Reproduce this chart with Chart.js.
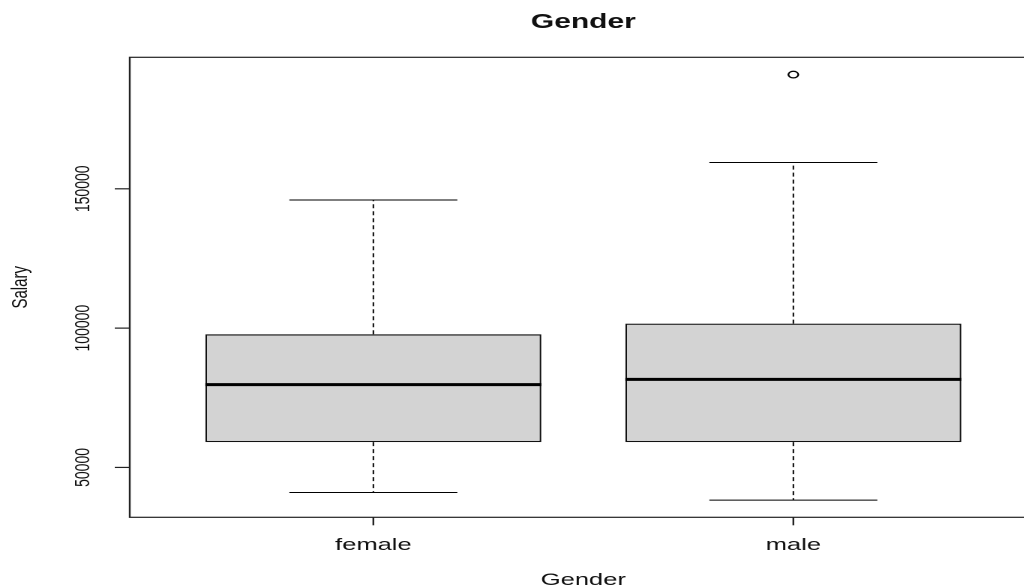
<!DOCTYPE html>
<html>
<head>
<meta charset="utf-8">
<script src="https://cdn.jsdelivr.net/npm/chart.js@4.4.1/dist/chart.umd.min.js"></script>
<style>
  html, body { margin: 0; padding: 0; background: #fff; overflow: hidden; }
  #wrap { width: 1024px; height: 588px; overflow: hidden; position: relative; }
  /* the reference is stretched sideways, so draw narrow and stretch */
  #chart { position: absolute; left: 0; top: 0; transform: scaleX(1.5); transform-origin: 0 0; }
</style>
</head>
<body>
<div id="wrap"><canvas id="chart" width="700" height="588"></canvas></div>
<script>
const categories = ['female', 'male'];
const lowerWhisker = [41000, 38250];
const q1 = [59100, 59100];
const median = [79700, 81600];
const q3 = [97800, 101600];
const upperWhisker = [146000, 159450];
const outliers = [[], [191000]];
const yTicks = [50000, 100000, 150000];

const FONT = 'Liberation Sans, Arial, sans-serif';

const boxplotExtras = {
  id: 'boxplotExtras',
  beforeDraw(chart) {
    const ctx = chart.ctx;
    ctx.save();
    ctx.fillStyle = '#fff';
    ctx.fillRect(0, 0, chart.width, chart.height);
    ctx.restore();
  },
  afterDatasetsDraw(chart) {
    const ctx = chart.ctx;
    const x = chart.scales.x;
    const y = chart.scales.y;
    const area = chart.chartArea;
    ctx.save();

    categories.forEach((c, i) => {
      const cx = x.getPixelForValue(i + 1);
      const capL = x.getPixelForValue(i + 1 - 0.2);
      const capR = x.getPixelForValue(i + 1 + 0.2);
      const boxL = x.getPixelForValue(i + 1 - 0.4);
      const boxR = x.getPixelForValue(i + 1 + 0.4);

      // dashed whiskers
      ctx.strokeStyle = '#000';
      ctx.lineWidth = 1;
      ctx.setLineDash([4, 3]);
      ctx.beginPath();
      ctx.moveTo(cx, y.getPixelForValue(q3[i]));
      ctx.lineTo(cx, y.getPixelForValue(upperWhisker[i]));
      ctx.moveTo(cx, y.getPixelForValue(q1[i]));
      ctx.lineTo(cx, y.getPixelForValue(lowerWhisker[i]));
      ctx.stroke();
      ctx.setLineDash([]);

      // staples
      ctx.beginPath();
      ctx.moveTo(capL, y.getPixelForValue(upperWhisker[i]));
      ctx.lineTo(capR, y.getPixelForValue(upperWhisker[i]));
      ctx.moveTo(capL, y.getPixelForValue(lowerWhisker[i]));
      ctx.lineTo(capR, y.getPixelForValue(lowerWhisker[i]));
      ctx.stroke();

      // median
      ctx.lineWidth = 3;
      ctx.beginPath();
      ctx.moveTo(boxL, y.getPixelForValue(median[i]));
      ctx.lineTo(boxR, y.getPixelForValue(median[i]));
      ctx.stroke();
    });

    // frame
    ctx.lineWidth = 1.2;
    ctx.strokeStyle = '#222';
    ctx.strokeRect(area.left, area.top, area.right - area.left, area.bottom - area.top);

    // y ticks and rotated labels
    ctx.fillStyle = '#111';
    ctx.font = '14px ' + FONT;
    yTicks.forEach(v => {
      const py = y.getPixelForValue(v);
      ctx.beginPath();
      ctx.moveTo(area.left, py);
      ctx.lineTo(area.left - 10, py);
      ctx.stroke();
      ctx.save();
      ctx.translate(area.left - 31, py);
      ctx.rotate(-Math.PI / 2);
      ctx.textAlign = 'center';
      ctx.textBaseline = 'middle';
      ctx.fillText(String(v), 0, 0);
      ctx.restore();
    });

    // x ticks and labels
    ctx.font = '17px ' + FONT;
    ctx.textAlign = 'center';
    ctx.textBaseline = 'alphabetic';
    categories.forEach((c, i) => {
      const px = x.getPixelForValue(i + 1);
      ctx.beginPath();
      ctx.moveTo(px, area.bottom);
      ctx.lineTo(px, area.bottom + 8);
      ctx.stroke();
      ctx.fillText(c, px, 550);
    });

    // axis titles
    const midX = (area.left + area.right) / 2;
    ctx.fillText('Gender', midX, 585);
    ctx.save();
    ctx.font = '15px ' + FONT;
    ctx.translate(14, (area.top + area.bottom) / 2);
    ctx.rotate(-Math.PI / 2);
    ctx.textBaseline = 'middle';
    ctx.fillText('Salary', 0, 0);
    ctx.restore();

    // main title
    ctx.font = 'bold 20px ' + FONT;
    ctx.textBaseline = 'alphabetic';
    ctx.fillText('Gender', midX, 28);

    ctx.restore();
  }
};

new Chart(document.getElementById('chart'), {
  type: 'bar',
  data: {
    datasets: [
      {
        type: 'bar',
        data: categories.map((c, i) => ({ x: i + 1, y: [q1[i], q3[i]] })),
        backgroundColor: '#d3d3d3',
        borderColor: '#111',
        borderWidth: 1.2,
        borderSkipped: false,
        barPercentage: 1,
        categoryPercentage: 0.8,
      },
      {
        type: 'scatter',
        data: outliers.flatMap((list, i) => list.map(v => ({ x: i + 1, y: v }))),
        pointStyle: 'circle',
        pointRadius: 3.3,
        backgroundColor: 'rgba(0,0,0,0)',
        borderColor: '#000',
        borderWidth: 1.2,
      },
    ],
  },
  options: {
    responsive: false,
    animation: false,
    devicePixelRatio: 2,
    layout: { padding: { left: 86.5, right: 8.7, top: 57.3, bottom: 70.7 } },
    scales: {
      x: {
        type: 'linear', min: 0.42, max: 2.58, offset: false, display: false,
        // one tick per group so bar width is measured on the group spacing
        afterBuildTicks: s => { s.ticks = categories.map((c, i) => ({ value: i + 1 })); },
      },
      y: { type: 'linear', min: 32100, max: 197200, display: false },
    },
    plugins: { legend: { display: false }, tooltip: { enabled: false } },
  },
  plugins: [boxplotExtras],
});
</script>
</body>
</html>
